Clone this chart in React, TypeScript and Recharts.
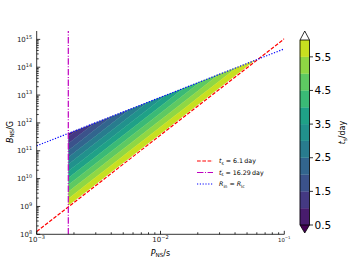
import React from 'react';
import {
  ComposedChart, Area, Line, XAxis, YAxis, ReferenceLine, ReferenceArea, Legend,
} from 'recharts';

// ---------- data ----------
const xLimits: [number, number] = [1e-3, 1e-1];
const yLimits: [number, number] = [1e8, 2e15];
const xMajorTicks = [1e-3, 1e-2, 1e-1];
const yMajorTicks = [1e8, 1e9, 1e10, 1e11, 1e12, 1e13, 1e14, 1e15];

// red dashed line: t_s = 6.1 day
const redP = [1e-3, 1e-1];
const redB = [1.26e8, 1.05e15];
// blue dotted line: R_in = R_lc
const blueP = [1e-3, 1e-1];
const blueB = [1.51e11, 4.57e14];
// magenta dash-dot vertical line: t'_s = 16.29 day
const magentaP = 1.8e-3;

// contour levels of t_s (day) and where each contour line crosses the magenta line
const levels = [0.5, 1.0, 1.5, 2.0, 2.5, 3.0, 3.5, 4.0, 4.5, 5.0, 5.5, 6.0];
const levelBAtMagenta = [5.69e11, 3.22e11, 1.82e11, 1.03e11, 5.82e10, 3.29e10, 1.86e10, 1.05e10, 5.96e9, 3.37e9, 1.91e9, 1.08e9];
const bandColors = ['#481c6e', '#443983', '#3b528b', '#32658e', '#287c8e', '#21918c', '#1fa187', '#3aba76', '#5ec962', '#8fd744', '#c8e020'];
const underColor = '#440154';
const overColor = '#ffffff';
const colorbarTicks = [0.5, 1.5, 2.5, 3.5, 4.5, 5.5];
const colorbarLimits: [number, number] = [0.262, 6.268];

// ---------- geometry of contour bands (straight lines in log-log space) ----------
const lg = Math.log10;
const sr = (lg(redB[1]) - lg(redB[0])) / (lg(redP[1]) - lg(redP[0]));
const sb = (lg(blueB[1]) - lg(blueB[0])) / (lg(blueP[1]) - lg(blueP[0]));
const lpm = lg(magentaP);
const blueAt = (lp: number) => lg(blueB[0]) + sb * (lp - lg(blueP[0]));
const levelAt = (i: number, lp: number) => lg(levelBAtMagenta[i]) + sr * (lp - lpm);
const meetBlue = (i: number) =>
  (lg(blueB[0]) - sb * lg(blueP[0]) - lg(levelBAtMagenta[i]) + sr * lpm) / (sr - sb);

const breaks: number[] = [lpm];
levels.forEach((_, i) => {
  const lp = meetBlue(i);
  if (lp > lpm) breaks.push(lp);
});
breaks.sort((a, b) => a - b);

const rows: any[] = [];
rows.push({ P: redP[0], red: redB[0], blue: blueB[0] });
breaks.forEach((lp) => {
  const row: any = { P: Math.pow(10, lp) };
  for (let k = 0; k < bandColors.length; k++) {
    const hi = Math.min(levelAt(k, lp), blueAt(lp));
    const lo = levelAt(k + 1, lp);
    if (lo <= hi + 1e-7) row[`b${k}`] = [Math.pow(10, lo), Math.pow(10, Math.max(hi, lo))];
    else row[`b${k}`] = null;
  }
  rows.push(row);
});
rows.push({ P: redP[1], red: redB[1], blue: blueB[1] });

// ---------- ticks ----------
const minorOf = (majors: number[]) => {
  const out: number[] = [];
  for (let i = 0; i < majors.length - 1; i++) for (let m = 2; m <= 9; m++) out.push(majors[i] * m);
  return out;
};
const xTicks = [...xMajorTicks, ...minorOf(xMajorTicks)].sort((a, b) => a - b);
const yTicks = [...yMajorTicks, ...minorOf(yMajorTicks)].sort((a, b) => a - b);

const FONT = 'DejaVu Sans';
const isMajor = (v: number, majors: number[]) => majors.some((m) => Math.abs(m - v) / m < 1e-6);
const expOf = (v: number) => {
  const e = Math.round(lg(v));
  return e < 0 ? `\u2212${-e}` : `${e}`;
};

const makeTick = (side: 'bottom' | 'top' | 'left' | 'right', majors: number[], labelled: boolean) =>
  (props: any) => {
    const { x, y, payload } = props;
    const v = payload.value as number;
    const major = isMajor(v, majors);
    const len = major ? 3.5 : 2;
    let line: any;
    if (side === 'bottom') line = <line x1={x} y1={y} x2={x} y2={y - len} />;
    else if (side === 'top') line = <line x1={x} y1={y} x2={x} y2={y + len} />;
    else if (side === 'left') line = <line x1={x} y1={y} x2={x + len} y2={y} />;
    else line = <line x1={x} y1={y} x2={x - len} y2={y} />;
    let label: any = null;
    if (labelled && major) {
      if (side === 'bottom') {
        const small = v === xMajorTicks[xMajorTicks.length - 1];
        const fs = small ? 5.4 : 7;
        label = (
          <text x={x} y={y + 7.7} textAnchor="middle" fontSize={fs} fill="#222" fontFamily={FONT}>
            <tspan>10</tspan>
            <tspan dy={-fs * 0.47} fontSize={fs * 0.72}>{expOf(v)}</tspan>
          </text>
        );
      } else if (side === 'left') {
        label = (
          <text x={x - 4.5} y={y + 2.6} textAnchor="end" fontSize={7} fill="#222" fontFamily={FONT}>
            <tspan>10</tspan>
            <tspan dy={-3.3} fontSize={5}>{expOf(v)}</tspan>
          </text>
        );
      }
    }
    return (
      <g>
        <g stroke="#000" strokeWidth={0.8}>{line}</g>
        {label}
      </g>
    );
  };

const axisLine = { stroke: '#000', strokeWidth: 0.8 };

const xTitle = () => (
  <text x={160.5} y={255.5} textAnchor="middle" fontSize={8} fill="#000" fontFamily={FONT}>
    <tspan fontStyle="italic">P</tspan>
    <tspan fontSize={5.6} dy={1.8}>NS</tspan>
    <tspan dy={-1.8}>/s</tspan>
  </text>
);
const yTitle = () => (
  <text x={12.5} y={132} transform="rotate(-90 12.5 132)" textAnchor="middle" fontSize={8} fill="#000" fontFamily={FONT}>
    <tspan fontStyle="italic">B</tspan>
    <tspan fontSize={5.6} dy={1.8}>NS</tspan>
    <tspan dy={-1.8}>/G</tspan>
  </text>
);
const cbTitle = () => (
  <text x={345} y={132.5} transform="rotate(-90 345 132.5)" textAnchor="middle" fontSize={8} fill="#000" fontFamily={FONT}>
    <tspan fontStyle="italic">t</tspan>
    <tspan fontSize={5.6} dy={1.8}>s</tspan>
    <tspan dy={-1.8}>/day</tspan>
  </text>
);

const RED = '#ff0000';
const MAGENTA = '#bf00bf';
const BLUE = '#0000ff';

const legendContent = () => {
  const fs = 6.3;
  const sub = 4.4;
  const rowsY = [7, 18.5, 30];
  return (
    <svg width={90} height={38} style={{ overflow: 'visible', display: 'block' }}>
      <line x1={2} x2={18} y1={rowsY[0]} y2={rowsY[0]} stroke={RED} strokeWidth={1.2} strokeDasharray="3.7 1.6" />
      <line x1={2} x2={18} y1={rowsY[1]} y2={rowsY[1]} stroke={MAGENTA} strokeWidth={1.2} strokeDasharray="6.4 1.6 1 1.6" />
      <line x1={2} x2={18} y1={rowsY[2]} y2={rowsY[2]} stroke={BLUE} strokeWidth={1.2} strokeDasharray="1.2 1.6" />
      <g fontFamily={FONT} fontSize={fs} fill="#000">
        <text x={24} y={rowsY[0] + 2.2}>
          <tspan fontStyle="italic">t</tspan>
          <tspan fontSize={sub} dy={1.3}>s</tspan>
          <tspan dy={-1.3}>{' = 6.1\u2009day'}</tspan>
        </text>
        <text x={24} y={rowsY[1] + 2.2}>
          <tspan fontStyle="italic">t</tspan>
          <tspan fontSize={sub} dy={-2.2}>{'\u2032'}</tspan>
          <tspan fontSize={sub} dx={-1.3} dy={3.5}>s</tspan>
          <tspan dy={-1.3}>{' = 16.29\u2009day'}</tspan>
        </text>
        <text x={24} y={rowsY[2] + 2.2}>
          <tspan fontStyle="italic">R</tspan>
          <tspan fontSize={sub} dy={1.3}>in</tspan>
          <tspan dy={-1.3}>{' = '}</tspan>
          <tspan fontStyle="italic">R</tspan>
          <tspan fontSize={sub} dy={1.3}>lc</tspan>
        </text>
      </g>
    </svg>
  );
};

const upArrow = (p: any) => (
  <g>
    <path d={`M${p.x},${p.y + p.height} L${p.x + p.width},${p.y + p.height} L${p.x + p.width / 2},${p.y} Z`} fill={overColor} stroke="none" />
    <path d={`M${p.x},${p.y + p.height} L${p.x + p.width / 2},${p.y} L${p.x + p.width},${p.y + p.height}`} fill="none" stroke="#000" strokeWidth={0.8} />
  </g>
);
const downArrow = (p: any) => (
  <g>
    <path d={`M${p.x},${p.y} L${p.x + p.width},${p.y} L${p.x + p.width / 2},${p.y + p.height} Z`} fill={underColor} stroke="none" />
    <path d={`M${p.x},${p.y} L${p.x + p.width / 2},${p.y + p.height} L${p.x + p.width},${p.y}`} fill="none" stroke="#000" strokeWidth={0.8} />
  </g>
);

export default function App() {
  return (
    <div style={{ position: 'absolute', left: 0, top: 0, width: 352, height: 264, background: '#fff' }}>
      <div style={{ position: 'absolute', left: 0, top: 0 }}>
        <ComposedChart width={352} height={264} data={rows} margin={{ top: 31, right: 67.7, bottom: 0, left: 0 }}>
          <XAxis xAxisId="b" dataKey="P" type="number" scale="log" domain={xLimits} allowDataOverflow
            ticks={xTicks} interval={0} tickSize={0} tickMargin={0} tickLine={false} axisLine={axisLine}
            height={29.7} tick={makeTick('bottom', xMajorTicks, true)} label={xTitle} />
          <XAxis xAxisId="t" orientation="top" dataKey="P" type="number" scale="log" domain={xLimits} allowDataOverflow
            ticks={xTicks} interval={0} tickSize={0} tickMargin={0} tickLine={false} axisLine={axisLine}
            height={0} tick={makeTick('top', xMajorTicks, false)} />
          <YAxis yAxisId="l" type="number" scale="log" domain={yLimits} allowDataOverflow
            ticks={yTicks} interval={0} tickSize={0} tickMargin={0} tickLine={false} axisLine={axisLine}
            width={36.7} tick={makeTick('left', yMajorTicks, true)} label={yTitle} />
          <YAxis yAxisId="r" orientation="right" type="number" scale="log" domain={yLimits} allowDataOverflow
            ticks={yTicks} interval={0} tickSize={0} tickMargin={0} tickLine={false} axisLine={axisLine}
            width={0} tick={makeTick('right', yMajorTicks, false)} />
          {bandColors.map((c, k) => (
            <Area key={k} xAxisId="b" yAxisId="l" type="linear" dataKey={`b${k}`} stroke={c} strokeWidth={0.4}
              fill={c} fillOpacity={1} isAnimationActive={false} dot={false} activeDot={false} connectNulls={false} />
          ))}
          <Line xAxisId="b" yAxisId="l" type="linear" dataKey="red" stroke={RED} strokeWidth={1.2}
            strokeDasharray="3.7 1.6" dot={false} activeDot={false} connectNulls isAnimationActive={false} />
          <Line xAxisId="b" yAxisId="l" type="linear" dataKey="blue" stroke={BLUE} strokeWidth={1.2}
            strokeDasharray="1.2 1.6" dot={false} activeDot={false} connectNulls isAnimationActive={false} />
          <ReferenceLine xAxisId="b" yAxisId="l" x={magentaP} stroke={MAGENTA} strokeWidth={1.2}
            strokeDasharray="6.4 1.6 1 1.6" />
          <Legend content={legendContent} layout="vertical" align="center" verticalAlign="middle"
            wrapperStyle={{ position: 'absolute', left: 195, top: 154, width: 90, height: 38 }} />
        </ComposedChart>
      </div>
      <div style={{ position: 'absolute', left: 0, top: 0 }}>
        <ComposedChart width={352} height={264} data={[{ u: 0 }, { u: 1 }]} margin={{ top: 31, right: 12.5, bottom: 31, left: 300 }}>
          <XAxis dataKey="u" type="number" domain={[0, 1]} hide />
          <YAxis orientation="right" type="number" domain={colorbarLimits} allowDataOverflow ticks={colorbarTicks}
            interval={0} width={30} tickSize={3.5} tickMargin={1.5} axisLine={false}
            tickLine={{ stroke: '#000', strokeWidth: 0.8 }}
            tick={{ fontSize: 10.5, fill: '#000', fontFamily: FONT }}
            tickFormatter={(v: number) => v.toFixed(1)} label={cbTitle} />
          {bandColors.map((c, k) => (
            <ReferenceArea key={k} y1={levels[k]} y2={levels[k + 1]} fill={c} fillOpacity={1} stroke={c} strokeWidth={0.3} />
          ))}
          <ReferenceArea y1={levels[levels.length - 1]} y2={colorbarLimits[1]} shape={upArrow} />
          <ReferenceArea y1={colorbarLimits[0]} y2={levels[0]} shape={downArrow} />
          <ReferenceArea y1={levels[0]} y2={levels[levels.length - 1]} fill="none" fillOpacity={0} stroke="#000" strokeWidth={0.8} />
        </ComposedChart>
      </div>
    </div>
  );
}
